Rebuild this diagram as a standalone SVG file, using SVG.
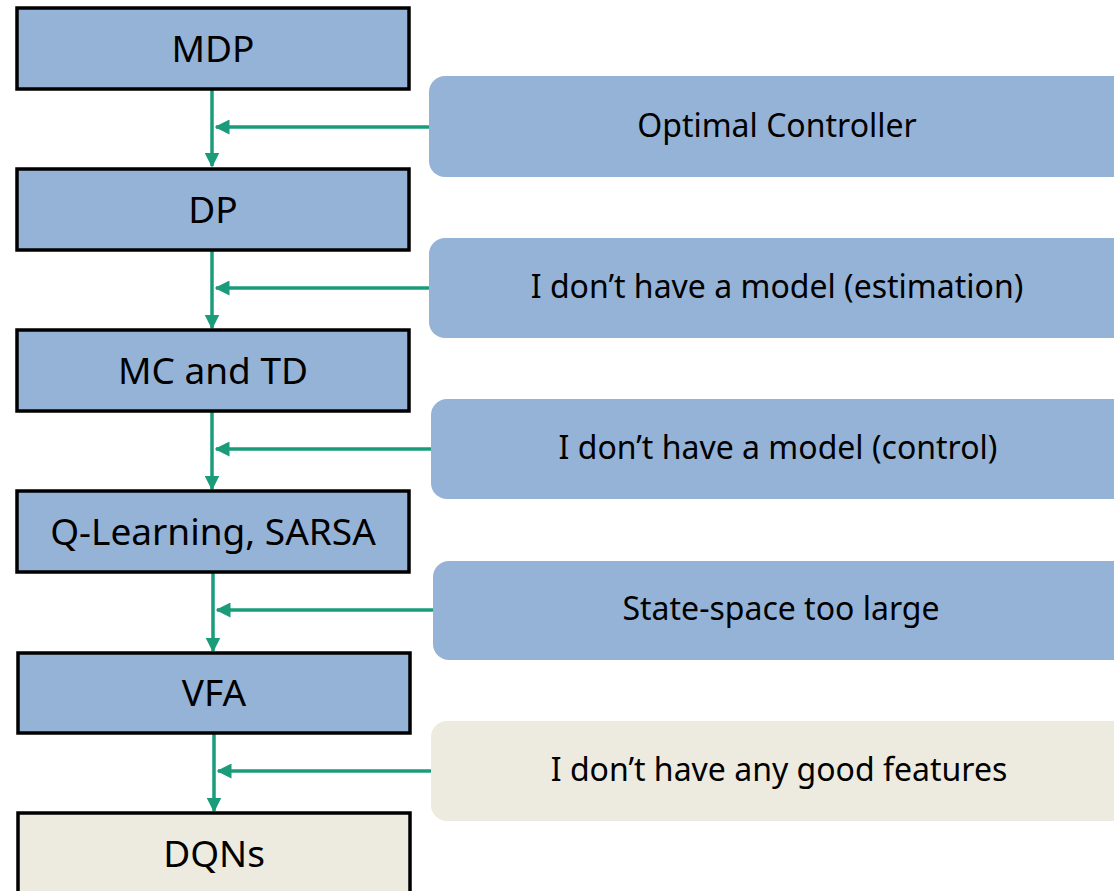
<svg xmlns="http://www.w3.org/2000/svg" width="1114" height="891" viewBox="0 0 1114 891">
<style>
.l{stroke:#000;stroke-width:3.5}
.b{fill:#95b3d7}
.g{fill:#edeae0}
.t{font-family:"Noto Sans","Open Sans",sans-serif;fill:#000;text-anchor:middle}
.tl{font-size:37px}
.tr{font-size:32px}
.c{stroke:#1a9c7a;stroke-width:3.5;fill:none}
</style>
<defs>
<marker id="ah" viewBox="0 0 10 10" refX="9" refY="5" markerWidth="15" markerHeight="15" markerUnits="userSpaceOnUse" orient="auto"><path d="M0,0 L10,5 L0,10 z" fill="#1a9c7a"/></marker>
</defs>
<g id="connectors">
<line class="c" x1="212" y1="89" x2="212" y2="166" marker-end="url(#ah)"/>
<line class="c" x1="429" y1="127" x2="216" y2="127" marker-end="url(#ah)"/>
<line class="c" x1="212" y1="250" x2="212" y2="328" marker-end="url(#ah)"/>
<line class="c" x1="429" y1="288" x2="216" y2="288" marker-end="url(#ah)"/>
<line class="c" x1="212" y1="411" x2="212" y2="489" marker-end="url(#ah)"/>
<line class="c" x1="431" y1="449" x2="216" y2="449" marker-end="url(#ah)"/>
<line class="c" x1="213" y1="572" x2="213" y2="651" marker-end="url(#ah)"/>
<line class="c" x1="433" y1="610" x2="217" y2="610" marker-end="url(#ah)"/>
<line class="c" x1="214" y1="733" x2="214" y2="811" marker-end="url(#ah)"/>
<line class="c" x1="431" y1="771" x2="218" y2="771" marker-end="url(#ah)"/>
</g>
<g id="mdp"><rect class="b l" x="17" y="8" width="392" height="81"/><text class="t tl" x="213" y="62">MDP</text></g>
<g id="dp"><rect class="b l" x="17" y="169" width="392" height="81"/><text class="t tl" x="213" y="223">DP</text></g>
<g id="mctd"><rect class="b l" x="17" y="330" width="392" height="81"/><text class="t tl" x="213" y="384">MC and TD</text></g>
<g id="qlearning"><rect class="b l" x="17" y="491" width="392" height="81"/><text class="t tl" x="213" y="545">Q-Learning, SARSA</text></g>
<g id="vfa"><rect class="b l" x="18" y="653" width="392" height="80"/><text class="t tl" x="214" y="706">VFA</text></g>
<g id="dqns"><rect class="g l" x="18" y="813" width="392" height="100"/><text class="t tl" x="214" y="867">DQNs</text></g>
<g id="optimal"><rect class="b" x="429" y="76" width="720" height="101" rx="16"/><text class="t tr" x="777" y="137">Optimal Controller</text></g>
<g id="estimation"><rect class="b" x="429" y="238" width="720" height="100" rx="16"/><text class="t tr" x="777" y="298">I don’t have a model (estimation)</text></g>
<g id="control"><rect class="b" x="431" y="399" width="720" height="100" rx="16"/><text class="t tr" x="778" y="459">I don’t have a model (control)</text></g>
<g id="statespace"><rect class="b" x="433" y="561" width="720" height="99" rx="16"/><text class="t tr" x="781" y="620">State-space too large</text></g>
<g id="features"><rect class="g" x="431" y="721" width="720" height="100" rx="16"/><text class="t tr" x="779" y="781">I don’t have any good features</text></g>
</svg>
